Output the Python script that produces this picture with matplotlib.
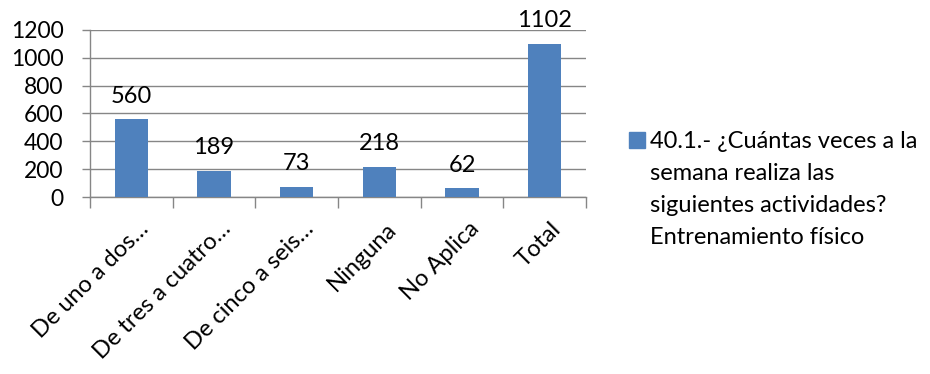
import numpy as np
import matplotlib
matplotlib.use("Agg")
from matplotlib import pyplot as plt
from matplotlib.patches import Rectangle
from matplotlib.transforms import ScaledTranslation

categories = ["De uno a dos…", "De tres a cuatro…", "De cinco a seis…",
              "Ninguna", "No Aplica", "Total"]
values = [560, 189, 73, 218, 62, 1102]
series_name = ("40.1.- ¿Cuántas veces a la\nsemana realiza las\n"
               "siguientes actividades?\nEntrenamiento físico")
y_ticks = [0, 200, 400, 600, 800, 1000, 1200]

bar_color = "#4F81BD"
grid_color = "#868686"
fs = 17

plt.rcParams["font.family"] = ["Lato", "DejaVu Sans"]

fig = plt.figure(figsize=(9.3, 3.74), dpi=100)
ax = fig.add_axes([90 / 930, 1 - 197 / 374, 496 / 930, 167 / 374])

x = np.arange(len(categories))
bars = ax.bar(x, values, width=0.4, color=bar_color, zorder=3)
for xi, v in zip(x, values):
    ax.annotate(str(v), (xi, v), xytext=(0, 9), textcoords="offset points",
                ha="center", va="bottom", fontsize=fs, color="black")

ax.set_xlim(-0.5, len(categories) - 0.5)
ax.set_ylim(0, 1200)
ax.set_yticks(y_ticks)
ax.set_yticklabels([str(t) for t in y_ticks], fontsize=16.5)
ax.yaxis.grid(True, color=grid_color, linewidth=1, zorder=0)
ax.tick_params(axis="y", length=6, color=grid_color, width=1, pad=13)

ax.set_xticks(x)
ax.set_xticklabels(categories, rotation=45, ha="right", va="baseline",
                   rotation_mode="anchor", fontsize=fs)
ax.tick_params(axis="x", length=0, pad=24)
shift = ScaledTranslation(18 / 100, 0, fig.dpi_scale_trans)
for lab in ax.get_xticklabels():
    lab.set_transform(lab.get_transform() + shift)
ax.set_xticks(np.arange(len(categories) + 1) - 0.5, minor=True)
ax.tick_params(axis="x", which="minor", length=8, color=grid_color, width=1)

for side in ["top", "right"]:
    ax.spines[side].set_visible(False)
for side in ["left", "bottom"]:
    ax.spines[side].set_color(grid_color)
    ax.spines[side].set_linewidth(1)

# legend drawn by hand so the square sits on the first line
fig.patches.append(Rectangle((629 / 930, 1 - 148 / 374), 16 / 930, 16 / 374,
                             transform=fig.transFigure, color=bar_color))
fig.text(650 / 930, 1 - 131 / 374, series_name, fontsize=fs, va="top",
         ha="left", linespacing=1.65)

fig.savefig("out.png", dpi=100)
